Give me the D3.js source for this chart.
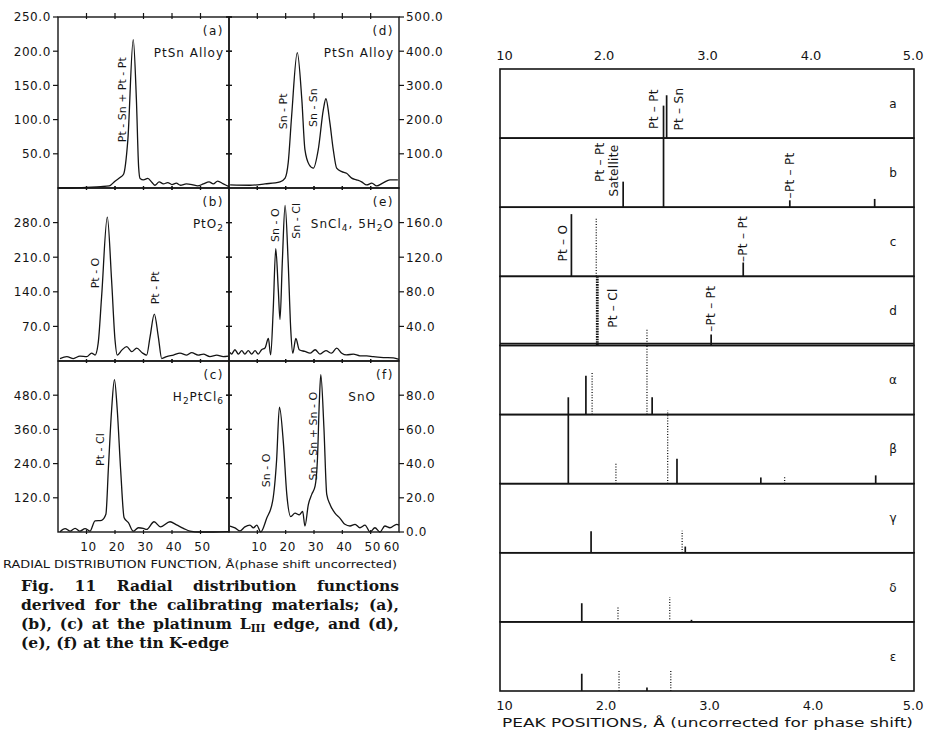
<!doctype html>
<html lang="en">
<head>
<meta charset="UTF-8" />
<title>Radial distribution functions and peak positions</title>
<script src="https://d3js.org/d3.v7.min.js"></script>
<style>
  body { margin: 0; background: #fff; }
  svg { display: block; font-family: "DejaVu Sans", sans-serif; }
</style>
</head>
<body>
<script>
// ---- radial distribution functions, [r, amplitude] ----
const rdfA = [[0,0],[5,0],[10,1],[15,2],[18,3],[20,10],[22,16],[23,20],[24.5,70],[26.4,217],[27.5,130],[28.3,30],[28.8,14],[30,12],[31.5,14],[33,8],[34,4],[35.5,9],[37,6],[38.5,8],[40,5],[41.5,7],[43,4],[45,6],[47,5],[49,3],[51,6],[53,9],[54.5,6],[56,10],[58,6],[60,2]];
const rdfB = [[0.7,5],[3.1,9],[5.4,5],[7.7,10],[10.1,9],[11.8,16],[13,12],[14.1,36],[15.3,130],[17.3,291],[18.8,164],[20,43],[20.8,12],[22.4,22],[24.1,29],[25.9,19],[27.6,26],[29.7,16],[31.1,12],[32.3,49],[33.8,95],[35.2,49],[36.4,5],[38.1,9],[40.5,12],[42.8,16],[45.2,12],[46.9,17],[49.2,12],[51,14],[53.3,9],[55.7,12],[58,9],[59.8,10]];
const rdfC = [[0.7,1],[2.5,12],[4.2,3],[6,13],[7.7,3],[9.5,12],[11.2,3],[13,39],[15.3,41],[16.8,62],[17.7,227],[18.8,427],[19.8,535],[20.8,427],[22,215],[23.2,50],[24.7,33],[26.4,3],[28.2,15],[29.9,13],[31.1,9],[33.7,36],[36,18],[39.3,36],[41.6,25],[44,13],[46.3,3],[49.8,0],[54.5,0],[59.8,1]];
const rdfD = [[0.4,9],[7.4,8],[12.7,12],[18,18],[19.8,29],[20.9,74],[22.1,210],[24.1,396],[25.7,259],[26.8,112],[28.3,68],[29.8,58],[31.5,112],[33.3,229],[34.2,261],[35.6,191],[36.8,112],[38,58],[39.8,48],[41.5,43],[43.3,29],[45,24],[46.8,18],[48.6,9],[50.4,14],[52.1,6],[54.4,15],[56.8,24],[59.6,24]];
const rdfE = [[0.35,10],[0.9,8],[2.1,13],[3.3,8],[4.5,12],[5.6,8],[6.8,12],[8,8],[9.2,12],[10.3,8],[11.5,13],[12.7,15],[13.9,26],[14.7,7],[15.6,59],[16.5,130],[17.4,82],[18,48],[18.8,113],[19.8,180],[20.9,113],[21.8,36],[22.5,9],[23.6,26],[24.8,13],[26.8,11],[28.6,9],[30.4,13],[32.1,8],[34.2,12],[36.2,9],[38,15],[39.8,9],[41.5,7],[43.9,8],[46.2,6],[48.6,6],[50.9,5],[54.5,4],[58,3.5],[60,2]];
const rdfF = [[0.35,3.5],[2.1,2.4],[3.9,0.6],[5.6,3],[7.4,4],[8.6,2.4],[9.8,4],[11.2,0],[13.3,8],[15.4,18],[16.8,42],[17.8,73],[19.2,52],[20.4,22],[21.8,9],[23.3,11],[24.8,10],[26,12],[26.8,3.5],[28,16],[29.2,22],[30.4,27],[31.2,42],[31.9,77],[32.4,92],[33.5,61],[34.5,22],[35.7,16],[37.4,11],[39.2,8],[40.9,4.5],[42.7,3.5],[44.5,4.5],[46.2,2.5],[48,4],[49.8,0],[51.5,2.5],[53.3,0],[55,3.5],[56.8,2.5],[59.2,4.5],[60,4]];

const panelIds = ["(a)", "(b)", "(c)", "(d)", "(e)", "(f)"];
const panelMaterials = ["PtSn Alloy", "PtO_2", "H_2PtCl_6", "PtSn Alloy", "SnCl_4, 5H_2O", "SnO"];
const panelYMax = [250, 350, 600, 500, 200, 100];
const panelYTicks = [
  [50, 100, 150, 200, 250],
  [70, 140, 210, 280],
  [120, 240, 360, 480],
  [100, 200, 300, 400, 500],
  [40, 80, 120, 160],
  [0, 20, 40, 60, 80]
];
const rdfXTicksLeft = [10, 20, 30, 40, 50];
const rdfXTicksRight = [10, 20, 30, 40, 50, 60];
// peak annotations: panel index, r, amplitude at label centre, text
const rdfPeakLabels = [
  [0, 22.5, 129, "Pt - Sn + Pt - Pt"],
  [1, 13, 178, "Pt - O"],
  [1, 34, 148, "Pt - Pt"],
  [2, 14.7, 289, "Pt - Cl"],
  [3, 19.1, 224, "Sn - Pt"],
  [3, 29.6, 235, "Sn - Sn"],
  [4, 16.2, 157, "Sn - O"],
  [4, 23.6, 162, "Sn - Cl"],
  [5, 13, 36, "Sn - O"],
  [5, 29.6, 56, "Sn - Sn + Sn - O"]
];

// ---- peak positions (right figure) ----
const peakRows = ["a", "b", "c", "d", "\u03b1", "\u03b2", "\u03b3", "\u03b4", "\u03b5"];
const peakTickLabels = ["10", "2.0", "3.0", "4.0", "5.0"];
const peakTickValues = [1, 2, 3, 4, 5];
// row, position (Å), relative height, style
const peaks = [
  ["a", 2.58, 0.47, "solid"], ["a", 2.61, 0.62, "solid"],
  ["b", 2.58, 1.0, "solid"], ["b", 2.19, 0.37, "solid"], ["b", 3.80, 0.1, "solid"], ["b", 4.62, 0.12, "solid"],
  ["c", 1.69, 0.9, "solid"], ["c", 1.93, 0.86, "dotted"], ["c", 3.35, 0.2, "solid"],
  ["d", 1.94, 1.0, "heavy"], ["d", 3.04, 0.16, "solid"],
  ["\u03b1", 1.66, 0.25, "solid"], ["\u03b1", 1.83, 0.56, "solid"], ["\u03b1", 1.89, 0.62, "dotted"], ["\u03b1", 2.42, 1.24, "dotted"], ["\u03b1", 2.47, 0.25, "solid"],
  ["\u03b2", 1.66, 1.0, "solid"], ["\u03b2", 2.12, 0.31, "dotted"], ["\u03b2", 2.62, 1.06, "dotted"], ["\u03b2", 2.71, 0.36, "solid"], ["\u03b2", 3.52, 0.09, "solid"], ["\u03b2", 3.75, 0.1, "dotted"], ["\u03b2", 4.63, 0.12, "solid"],
  ["\u03b3", 1.88, 0.31, "solid"], ["\u03b3", 2.76, 0.32, "dotted"], ["\u03b3", 2.79, 0.09, "solid"],
  ["\u03b4", 1.79, 0.27, "solid"], ["\u03b4", 2.14, 0.22, "dotted"], ["\u03b4", 2.64, 0.36, "dotted"], ["\u03b4", 2.85, 0.03, "solid"],
  ["\u03b5", 1.79, 0.25, "solid"], ["\u03b5", 2.15, 0.3, "dotted"], ["\u03b5", 2.42, 0.05, "solid"], ["\u03b5", 2.65, 0.3, "dotted"]
];
// row, position, height of label centre, text
const peakLabels = [
  ["a", 2.49, 0.42, "Pt \u2013 Pt"], ["a", 2.73, 0.42, "Pt \u2013 Sn"],
  ["b", 1.96, 0.65, "Pt \u2013 Pt"], ["b", 2.10, 0.53, "Satellite"], ["b", 3.80, 0.46, "\u2013Pt \u2013 Pt"],
  ["c", 1.61, 0.48, "Pt \u2013 O"], ["c", 3.35, 0.54, "\u2013Pt \u2013 Pt"],
  ["d", 2.09, 0.54, "Pt \u2013 Cl"], ["d", 3.04, 0.53, "\u2013Pt \u2013 Pt"]
];

const captionLines = [
  "Fig. 11 Radial distribution functions",
  "derived for the calibrating materials; (a),",
  "(b), (c) at the platinum L_III edge, and (d),",
  "(e), (f) at the tin K-edge"
];

const ink = "#141414";
const svg = d3.select("body").append("svg").attr("width", 925).attr("height", 731);

// text with _sub parts (digits or roman numerals)
function rich(sel, str, subSize) {
  const parts = str.split(/(_\d+|_[IVX]+)/).filter(s => s.length);
  let down = false;
  parts.forEach(p => {
    if (p[0] === "_") {
      sel.append("tspan").attr("dy", down ? 0 : 3).attr("font-size", subSize).text(p.slice(1));
      down = true;
    } else {
      sel.append("tspan").attr("dy", down ? -3 : 0).text(p);
      down = false;
    }
  });
}

// ================= left figure =================
const colX = [58, 229, 399];
const rowY = [17, 188, 361, 532];
const left = svg.append("g");

panelIds.forEach((id, i) => {
  const col = i < 3 ? 0 : 1, row = i % 3;
  const x = d3.scaleLinear().domain([0, 60]).range([colX[col], colX[col + 1]]);
  const y = d3.scaleLinear().domain([0, panelYMax[i]]).range([rowY[row + 1], rowY[row]]);
  const g = left.append("g");

  g.append("rect")
    .attr("x", colX[col]).attr("y", rowY[row])
    .attr("width", colX[col + 1] - colX[col]).attr("height", rowY[row + 1] - rowY[row])
    .attr("fill", "none").attr("stroke", ink).attr("stroke-width", 1.4);

  // small r ticks on the horizontal borders
  const xt = col === 0 ? rdfXTicksLeft : rdfXTicksRight.slice(0, 5);
  [rowY[row], rowY[row + 1]].forEach(yy => {
    g.selectAll(null).data(xt).join("line")
      .attr("x1", d => x(d)).attr("x2", d => x(d))
      .attr("y1", yy - (row === 0 && yy === rowY[0] ? 4 : 2)).attr("y2", yy + 2)
      .attr("stroke", ink).attr("stroke-width", 1.2);
  });

  // amplitude ticks and labels
  const ticks = panelYTicks[i];
  const outer = col === 0 ? colX[0] : colX[2];
  const dir = col === 0 ? -1 : 1;
  g.selectAll(null).data(ticks).join("line")
    .attr("x1", outer).attr("x2", outer + dir * 5)
    .attr("y1", d => y(d)).attr("y2", d => y(d))
    .attr("stroke", ink).attr("stroke-width", 1.2);
  g.selectAll(null).data(ticks.filter(d => d > 0)).join("line")
    .attr("x1", colX[1] - 3).attr("x2", colX[1] + 3)
    .attr("y1", d => y(d)).attr("y2", d => y(d))
    .attr("stroke", ink).attr("stroke-width", 1.2);
  g.selectAll(null).data(ticks).join("text")
    .attr("x", outer + dir * 7).attr("y", d => y(d)).attr("dy", "0.36em")
    .attr("text-anchor", col === 0 ? "end" : "start")
    .attr("font-size", 12).attr("letter-spacing", 0.6).attr("fill", ink)
    .text(d => d.toFixed(1));

  // the curve
  g.append("path")
    .datum(i === 0 ? rdfA : i === 1 ? rdfB : i === 2 ? rdfC : i === 3 ? rdfD : i === 4 ? rdfE : rdfF)
    .attr("fill", "none").attr("stroke", ink).attr("stroke-width", 1.3)
    .attr("d", d3.line().x(d => x(d[0])).y(d => y(d[1])).curve(d3.curveMonotoneX));

  // panel id and material
  const rx = colX[col + 1] - 5;
  g.append("text").attr("x", rx).attr("y", rowY[row] + 18)
    .attr("text-anchor", "end").attr("font-size", 12).attr("letter-spacing", 1.5).attr("fill", ink)
    .text(id);
  const mat = g.append("text").attr("x", rx - (i === 5 ? 18 : 0)).attr("y", rowY[row] + 40)
    .attr("text-anchor", "end").attr("font-size", 12).attr("letter-spacing", 1).attr("fill", ink);
  rich(mat, panelMaterials[i], 9);

  // peak annotations
  rdfPeakLabels.filter(p => p[0] === i).forEach(p => {
    g.append("text")
      .attr("transform", `translate(${x(p[1])},${y(p[2])}) rotate(-90)`)
      .attr("text-anchor", "middle").attr("dy", "0.35em")
      .attr("font-size", 11).attr("fill", ink)
      .text(p[3]);
  });

  // r axis labels under the bottom row
  if (row === 2) {
    const labs = col === 0 ? rdfXTicksLeft : rdfXTicksRight;
    g.selectAll(null).data(labs).join("text")
      .attr("x", d => x(d) + (d === 60 ? 1 : 2)).attr("y", 551)
      .attr("text-anchor", d => d === 60 ? "end" : "middle")
      .attr("font-size", 12).attr("letter-spacing", 0.5).attr("fill", ink)
      .text(d => d);
  }
});

left.append("text").attr("x", 3).attr("y", 568)
  .attr("textLength", 394).attr("lengthAdjust", "spacingAndGlyphs")
  .attr("font-size", 10.5).attr("fill", ink)
  .text("RADIAL  DISTRIBUTION FUNCTION, \u00c5(phase shift uncorrected)");

// caption, justified like the print
const capBase = [591, 610, 629, 648];
captionLines.forEach((line, i) => {
  const t = left.append("text").attr("x", 21).attr("y", capBase[i])
    .attr("font-family", "'DejaVu Serif', serif")
    .attr("font-weight", "bold").attr("font-size", 15.5).attr("fill", ink);
  rich(t, line, 10.5);
  if (i < captionLines.length - 1) {
    const n = t.text().split(" ").length - 1;
    const w = t.node().getComputedTextLength();
    t.attr("word-spacing", (378 - w) / n);
  }
});

// ================= right figure =================
const px = d3.scaleLinear().domain([1, 5]).range([500, 914]);
const band = d3.scaleBand().domain(peakRows).range([69, 691]);
const right = svg.append("g");

peakRows.forEach(r => {
  right.append("rect")
    .attr("x", px(1)).attr("y", band(r))
    .attr("width", px(5) - px(1)).attr("height", band.bandwidth())
    .attr("fill", "none").attr("stroke", ink).attr("stroke-width", 1.6);
  right.append("text")
    .attr("x", 893).attr("y", band(r) + band.bandwidth() / 2).attr("dy", "0.35em")
    .attr("text-anchor", "middle").attr("font-size", 12).attr("fill", ink)
    .text(r);
});
// doubled line under row d
right.append("line")
  .attr("x1", px(1)).attr("x2", px(5))
  .attr("y1", band("d") + band.bandwidth() - 2).attr("y2", band("d") + band.bandwidth() - 2)
  .attr("stroke", ink).attr("stroke-width", 1.6);

peaks.forEach(p => {
  const h = d3.scaleLinear().domain([0, 1]).range([band(p[0]) + band.bandwidth(), band(p[0])]);
  const l = right.append("line")
    .attr("x1", px(p[1])).attr("x2", px(p[1]))
    .attr("y1", h(0)).attr("y2", h(p[2]))
    .attr("stroke", ink);
  if (p[3] === "solid") l.attr("stroke-width", 1.7);
  if (p[3] === "dotted") l.attr("stroke-width", 1.3).attr("stroke-dasharray", "1,1.7");
  if (p[3] === "heavy") l.attr("stroke-width", 2.8).attr("stroke-dasharray", "1.6,1");
});

peakLabels.forEach(p => {
  const h = d3.scaleLinear().domain([0, 1]).range([band(p[0]) + band.bandwidth(), band(p[0])]);
  right.append("text")
    .attr("transform", `translate(${px(p[1])},${h(p[2])}) rotate(-90)`)
    .attr("text-anchor", "middle").attr("dy", "0.35em")
    .attr("font-size", 12).attr("letter-spacing", 0.3).attr("fill", ink)
    .text(p[3]);
});

// position axes, top and bottom
const fmt = (d, i) => peakTickLabels[i];
const last = peakTickValues.length - 1;
right.append("g").attr("transform", "translate(0,60)")
  .call(d3.axisTop(px).tickValues(peakTickValues).tickFormat(fmt).tickSize(0).tickPadding(0))
  .call(g => g.select(".domain").remove())
  .call(g => g.selectAll("text").attr("font-size", 13).attr("font-family", "DejaVu Sans").attr("fill", ink)
    .attr("dx", (d, i) => i === 0 ? 4 : 0)
    .attr("text-anchor", (d, i) => i === last ? "end" : "middle")
    .attr("x", (d, i) => i === last ? 9 : 0));
right.append("g").attr("transform", "translate(0,701)")
  .call(d3.axisBottom(px).tickValues(peakTickValues).tickFormat(fmt).tickSize(0).tickPadding(0))
  .call(g => g.select(".domain").remove())
  .call(g => g.selectAll("text").attr("font-size", 13).attr("font-family", "DejaVu Sans").attr("fill", ink)
    .attr("dx", (d, i) => i === 0 ? 4 : 2)
    .attr("text-anchor", (d, i) => i === last ? "end" : "middle")
    .attr("x", (d, i) => i === last ? 7 : 0));
right.selectAll(".tick line").remove();

right.append("text").attr("x", 502).attr("y", 727)
  .attr("textLength", 411).attr("lengthAdjust", "spacingAndGlyphs")
  .attr("font-size", 12.5).attr("fill", ink)
  .text("PEAK  POSITIONS,  \u00c5 (uncorrected  for  phase shift)");
</script>
</body>
</html>
